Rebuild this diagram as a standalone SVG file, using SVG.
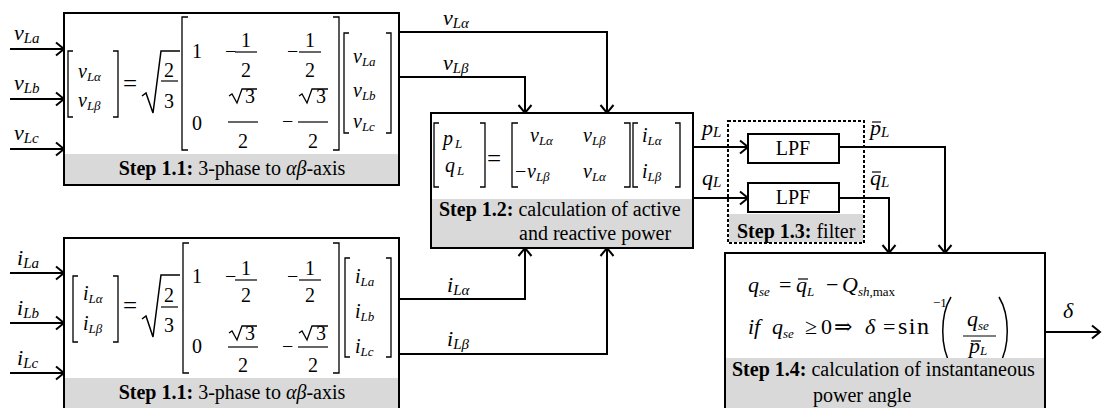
<svg xmlns="http://www.w3.org/2000/svg" width="1102" height="408" viewBox="0 0 1102 408" font-family="'Liberation Serif', 'Times New Roman', Times, 'DejaVu Serif', serif">
<defs>
<marker id="ah" markerUnits="userSpaceOnUse" markerWidth="14" markerHeight="18" refX="10" refY="8" orient="auto" overflow="visible">
<path d="M2,1.5 L10,8 L2,14.5" fill="none" stroke="#000" stroke-width="2"/>
</marker>
<style>
.box{fill:#fff;stroke:#000;stroke-width:2}
.band{fill:#d9d9d9}
.dash{fill:none;stroke:#000;stroke-width:2;stroke-dasharray:3 2}
.ln{fill:none;stroke:#000;stroke-width:2;marker-end:url(#ah)}
.br{fill:none;stroke:#000;stroke-width:1.3}
.bar{stroke:#000;stroke-width:1.2}
.t{font-size:20px}
.b{font-weight:bold}
.i{font-style:italic}
.m{font-size:20px;font-style:italic}
.n{font-size:20px}
.eq{font-size:25px}
.e{font-size:22px;font-style:italic}
.en{font-size:22px}
.lab{font-size:22px;font-style:italic}
.s{font-size:13px;font-style:italic}
.ls{font-size:15px;font-style:italic}
</style>
</defs>

<g id="connectors">
<path class="ln" d="M10,49H64"/>
<path class="ln" d="M10,99H64"/>
<path class="ln" d="M10,149H64"/>
<path class="ln" d="M10,273H64"/>
<path class="ln" d="M10,323H64"/>
<path class="ln" d="M10,373H64"/>
<path class="ln" d="M399,32H607V113"/>
<path class="ln" d="M399,77H525V113"/>
<path class="ln" d="M399,299H525V248"/>
<path class="ln" d="M399,354H607V248"/>
<path class="ln" d="M693,147H748"/>
<path class="ln" d="M693,198H748"/>
<path class="ln" d="M839,147H945V253"/>
<path class="ln" d="M839,198H889V253"/>
<path class="ln" d="M1045,332H1100"/>
<text class="lab" x="14" y="40">v<tspan class="ls" dy="3">La</tspan></text>
<text class="lab" x="14" y="90">v<tspan class="ls" dy="3">Lb</tspan></text>
<text class="lab" x="14" y="140">v<tspan class="ls" dy="3">Lc</tspan></text>
<text class="lab" x="17" y="265">i<tspan class="ls" dy="3">La</tspan></text>
<text class="lab" x="17" y="315">i<tspan class="ls" dy="3">Lb</tspan></text>
<text class="lab" x="17" y="365">i<tspan class="ls" dy="3">Lc</tspan></text>
<text class="lab" x="443" y="25">v<tspan class="ls" dy="3">Lα</tspan></text>
<text class="lab" x="443" y="70">v<tspan class="ls" dy="3">Lβ</tspan></text>
<text class="lab" x="447" y="292">i<tspan class="ls" dy="3">Lα</tspan></text>
<text class="lab" x="447" y="346">i<tspan class="ls" dy="3">Lβ</tspan></text>
<text class="lab" x="702" y="135">p<tspan class="ls" dy="2">L</tspan></text>
<text class="lab" x="702" y="185">q<tspan class="ls" dy="2">L</tspan></text>
<text class="lab" x="870" y="135">p<tspan class="ls" dy="2">L</tspan></text>
<line class="bar" x1="872" y1="122" x2="881" y2="122"/>
<text class="lab" x="870" y="185">q<tspan class="ls" dy="2">L</tspan></text>
<line class="bar" x1="872" y1="172" x2="881" y2="172"/>
<text class="lab" x="1063" y="318">δ</text>
</g>

<g id="step11-voltage">
<rect class="box" x="64" y="13" width="335" height="172"/>
<rect class="band" x="65" y="154" width="333" height="30"/>
<text class="t" x="232" y="175" text-anchor="middle"><tspan class="b">Step 1.1:</tspan> 3-phase to <tspan class="i">αβ</tspan>-axis</text>
<path class="br" d="M73,51H68V117H73M113,51H118V117H113"/>
<text class="m" x="78" y="78">v<tspan class="s" dy="3">Lα</tspan></text>
<text class="m" x="78" y="107">v<tspan class="s" dy="3">Lβ</tspan></text>
<text class="eq" x="123" y="92">=</text>
<path class="br" style="stroke-width:1.5" d="M142,96L146,93L153,113L161,51H180"/>
<text class="n" x="169" y="77" text-anchor="middle">2</text>
<line class="bar" x1="161" y1="81" x2="178" y2="81"/>
<text class="n" x="169" y="108" text-anchor="middle">3</text>
<path class="br" d="M188,17H182V150H188M333,17H339V150H333"/>
<text class="n" x="192" y="58">1</text>
<text class="n" x="225" y="58">−</text>
<text class="n" x="246" y="47" text-anchor="middle">1</text>
<line class="bar" x1="235" y1="52" x2="257" y2="52"/>
<text class="n" x="246" y="77" text-anchor="middle">2</text>
<text class="n" x="287" y="58">−</text>
<text class="n" x="310" y="47" text-anchor="middle">1</text>
<line class="bar" x1="299" y1="52" x2="321" y2="52"/>
<text class="n" x="310" y="77" text-anchor="middle">2</text>
<text class="n" x="192" y="130">0</text>
<path class="br" d="M229,96L232,94L237,103L242,89H257"/>
<text class="n" x="250" y="103" text-anchor="middle">3</text>
<line class="bar" x1="228" y1="122" x2="258" y2="122"/>
<text class="n" x="243" y="148" text-anchor="middle">2</text>
<text class="n" x="282" y="128">−</text>
<path class="br" d="M299,96L302,94L307,103L312,89H328"/>
<text class="n" x="321" y="103" text-anchor="middle">3</text>
<line class="bar" x1="298" y1="122" x2="328" y2="122"/>
<text class="n" x="313" y="148" text-anchor="middle">2</text>
<path class="br" d="M349,33H344V133H349M386,33H391V133H386"/>
<text class="m" x="353" y="63">v<tspan class="s" dy="3">La</tspan></text>
<text class="m" x="353" y="97">v<tspan class="s" dy="3">Lb</tspan></text>
<text class="m" x="353" y="128">v<tspan class="s" dy="3">Lc</tspan></text>
</g>

<g id="step11-current">
<rect class="box" x="64" y="238" width="335" height="175"/>
<rect class="band" x="65" y="378" width="333" height="34"/>
<text class="t" x="232" y="399" text-anchor="middle"><tspan class="b">Step 1.1:</tspan> 3-phase to <tspan class="i">αβ</tspan>-axis</text>
<g transform="translate(0,225)">
<path class="br" d="M78,51H73V117H78M113,51H118V117H113"/>
<text class="m" x="83" y="75">i<tspan class="s" dy="3">Lα</tspan></text>
<text class="m" x="83" y="105">i<tspan class="s" dy="3">Lβ</tspan></text>
<text class="eq" x="123" y="89">=</text>
<path class="br" style="stroke-width:1.5" d="M142,94L146,91L153,112L161,50H180"/>
<text class="n" x="169" y="77" text-anchor="middle">2</text>
<line class="bar" x1="161" y1="82" x2="178" y2="82"/>
<text class="n" x="169" y="107" text-anchor="middle">3</text>
<path class="br" d="M189,18H183V148H189M333,18H339V148H333"/>
<text class="n" x="192" y="58">1</text>
<text class="n" x="225" y="58">−</text>
<text class="n" x="246" y="50" text-anchor="middle">1</text>
<line class="bar" x1="235" y1="55" x2="257" y2="55"/>
<text class="n" x="246" y="77" text-anchor="middle">2</text>
<text class="n" x="287" y="58">−</text>
<text class="n" x="310" y="50" text-anchor="middle">1</text>
<line class="bar" x1="299" y1="55" x2="321" y2="55"/>
<text class="n" x="310" y="77" text-anchor="middle">2</text>
<text class="n" x="192" y="128">0</text>
<path class="br" d="M229,108L232,106L237,115L242,101H257"/>
<text class="n" x="250" y="115" text-anchor="middle">3</text>
<line class="bar" x1="228" y1="122" x2="258" y2="122"/>
<text class="n" x="243" y="147" text-anchor="middle">2</text>
<text class="n" x="282" y="128">−</text>
<path class="br" d="M299,108L302,106L307,115L312,101H328"/>
<text class="n" x="321" y="115" text-anchor="middle">3</text>
<line class="bar" x1="298" y1="122" x2="328" y2="122"/>
<text class="n" x="313" y="147" text-anchor="middle">2</text>
<path class="br" d="M350,33H345V132H350M386,33H391V132H386"/>
<text class="m" x="355" y="58">i<tspan class="s" dy="3">La</tspan></text>
<text class="m" x="355" y="93">i<tspan class="s" dy="3">Lb</tspan></text>
<text class="m" x="355" y="128">i<tspan class="s" dy="3">Lc</tspan></text>
</g>
</g>

<g id="step12">
<rect class="box" x="431" y="113" width="262" height="135"/>
<rect class="band" x="432" y="199" width="260" height="48"/>
<text class="t" x="439" y="216"><tspan class="b">Step 1.2:</tspan> calculation of active</text>
<text class="t" x="519" y="240">and reactive power</text>
<path class="br" d="M439,123H434V187H439M480,123H485V187H480"/>
<text class="m" x="443" y="145">p<tspan class="s" dx="2" dy="3">L</tspan></text>
<text class="m" x="445" y="172">q<tspan class="s" dx="2" dy="3">L</tspan></text>
<text class="eq" x="487" y="167">=</text>
<path class="br" d="M518,123H512V187H518M624,123H630V187H624"/>
<text class="m" x="530" y="142">v<tspan class="s" dy="3">Lα</tspan></text>
<text class="m" x="583" y="142">v<tspan class="s" dy="3">Lβ</tspan></text>
<text class="n" x="515" y="178">−</text>
<text class="m" x="527" y="178">v<tspan class="s" dy="3">Lβ</tspan></text>
<text class="m" x="583" y="178">v<tspan class="s" dy="3">Lα</tspan></text>
<path class="br" d="M638,123H633V187H638M675,123H680V187H675"/>
<text class="m" x="642" y="142">i<tspan class="s" dy="3">Lα</tspan></text>
<text class="m" x="642" y="178">i<tspan class="s" dy="3">Lβ</tspan></text>
</g>

<g id="step13">
<rect class="band" x="729" y="214" width="134" height="28"/>
<rect class="dash" x="728" y="121" width="136" height="122"/>
<text class="t" x="737" y="238"><tspan class="b">Step 1.3:</tspan> filter</text>
</g>
<g id="lpf-p">
<rect class="box" x="748" y="134" width="91" height="29"/>
<text class="t" x="793" y="155" text-anchor="middle">LPF</text>
</g>
<g id="lpf-q">
<rect class="box" x="748" y="183" width="91" height="29"/>
<text class="t" x="793" y="204" text-anchor="middle">LPF</text>
</g>

<g id="step14">
<rect class="box" x="725" y="253" width="320" height="160"/>
<text class="e" x="748" y="292">q<tspan class="s" dy="4">se</tspan></text>
<text class="en" x="779" y="292">=</text>
<text class="e" x="796" y="292">q<tspan class="s" dy="4">L</tspan></text>
<line class="bar" x1="798" y1="279" x2="808" y2="279"/>
<text class="en" x="826" y="292">−</text>
<text class="e" x="842" y="292">Q<tspan class="s" dy="4">sh</tspan><tspan style="font-size:13px;font-style:normal">,max</tspan></text>
<text class="e" x="748" y="334">if</text>
<text class="e" x="772" y="334">q<tspan class="s" dy="4">se</tspan></text>
<text class="en" x="805" y="334">≥</text>
<text class="en" x="821" y="334">0</text>
<text class="en" x="834" y="334">⇒</text>
<text class="e" x="865" y="334">δ</text>
<text class="en" x="883" y="334">=</text>
<text class="en" x="898" y="334" style="font-size:24px;letter-spacing:1.5px">sin</text>
<text class="n" x="933" y="307" style="font-size:13px">−1</text>
<path class="br" style="stroke-width:1.5" d="M951,297C940,315 940,347 951,365M999,297C1010,315 1010,347 999,365"/>
<text class="e" x="967" y="326">q<tspan class="s" dy="4">se</tspan></text>
<line class="bar" x1="963" y1="336" x2="996" y2="336"/>
<text class="e" x="969" y="353">p<tspan class="s" dy="2">L</tspan></text>
<line class="bar" x1="971" y1="341" x2="981" y2="341"/>
<rect class="band" x="726" y="358" width="318" height="54"/>
<text class="t" x="732" y="376"><tspan class="b">Step 1.4:</tspan> calculation of instantaneous</text>
<text class="t" x="813" y="402">power angle</text>
</g>
</svg>
